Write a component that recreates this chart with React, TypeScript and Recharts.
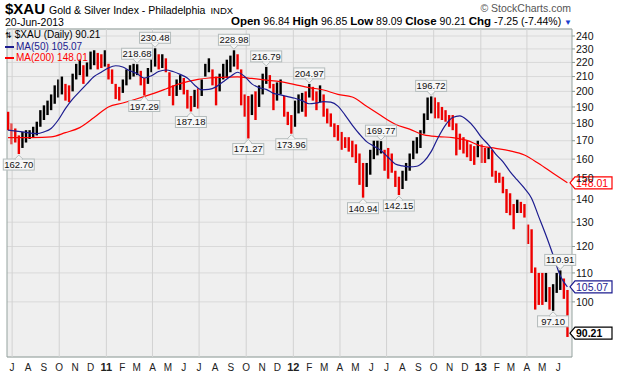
import React from "react";
import {
  ComposedChart,
  Bar,
  Line,
  XAxis,
  YAxis,
  CartesianGrid,
  ReferenceLine,
  ReferenceDot,
  ReferenceArea,
} from "recharts";

// day 0 = Mon 21-Jun-2010, weekly bars sit on the Wednesday of each week
const START_UTC = Date.UTC(2010, 5, 21);
const DAY_MS = 86400000;
const X_MAX = 1103;
const Y_MIN = 83.4;
const Y_MAX = 245.6;

// weekly high / low
const weekHigh = [
  187, 180, 177, 173, 175, 176, 176, 178, 181, 188,
  191, 194, 198, 204, 208, 210, 205, 204, 212, 219,
  222, 218, 220, 228, 229, 227, 226, 229, 219, 215,
  205, 203, 208, 215, 218, 219, 218.68, 214, 209, 216,
  225, 230.48, 226, 226, 223, 213, 204, 208, 211, 209,
  201, 197, 201, 202, 208, 219, 223, 215, 210, 212,
  219, 222, 225, 228.98, 226, 215, 198, 197, 198, 200,
  204, 212, 216.79, 211, 205, 206, 208, 197, 187, 185,
  194, 198, 199, 200, 204.97, 203, 200, 204, 198, 189,
  186, 180, 179, 175, 172, 172, 170, 168, 163, 158,
  158, 165, 170, 170, 169.77, 165, 166, 163, 154, 151,
  154, 158, 163, 170, 172, 176, 186, 196, 196.72, 196,
  193, 190, 188, 185, 185, 180, 174, 172, 170, 168,
  167, 170, 168, 166, 166, 165, 154, 153, 151, 145,
  143, 138, 140, 139, 138, 129, 127, 112, 110, 110,
  110, 105, 106, 110, 110.91, 108, 104,
];

const weekLow = [
  176, 168, 169, 162.7, 166, 169, 171, 172, 173, 178,
  182, 185, 188, 192, 196, 198, 194, 193, 200, 208,
  211, 205, 210, 215, 218, 215, 216, 217, 208, 205,
  195, 194, 199, 204, 208, 210, 211, 204, 197.29, 205,
  213, 217, 215, 216, 213, 197, 191, 197, 201, 198,
  189, 187.18, 190, 189, 197, 210, 213, 204, 191, 200,
  208, 209, 213, 217, 215, 191, 184, 171.27, 185, 182,
  190, 198, 205, 202, 188, 194, 198, 184, 179, 173.96,
  178, 186, 187, 184, 196, 194, 188, 193, 184, 180,
  178, 172, 170, 165, 166, 164, 161, 158, 147, 140.94,
  146, 152, 160, 162, 163, 154, 150, 153, 146, 142.15,
  145, 149, 154, 160, 163, 166, 174, 182, 186, 183,
  183, 182, 181, 178, 176, 162, 165, 163, 161, 159,
  157, 161, 158, 158, 160, 151, 148, 148, 143, 134,
  133, 127, 134, 134, 132, 121, 110, 97.5, 99, 99,
  100, 97.5, 97.1, 103, 104, 101, 89.09,
];

// moving averages, read at selected weeks
const ma50Week = [
  0, 4, 8, 10, 12, 14, 16, 18, 20, 22, 24, 26, 28, 30, 32, 34, 36, 38, 40, 42,
  44, 46, 48, 50, 52, 54, 56, 58, 60, 62, 64, 66, 68, 70, 72, 74, 76, 78, 80, 82,
  84, 86, 88, 90, 92, 94, 96, 98, 100, 102, 104, 106, 108, 110, 112, 114, 116, 118, 120, 122,
  124, 126, 128, 130, 132, 134, 136, 138, 140, 142, 144, 146, 148, 150, 152, 154, 156,
];
const ma50Value = [
  176, 175, 174, 175, 177, 182, 189, 195, 200, 205, 210, 213, 216, 217.6, 216.7, 214, 212, 209, 210.6, 213.5,
  214.6, 213.5, 211.5, 209, 204.3, 201, 201.3, 203, 206.5, 210, 213, 210, 205, 202.5, 201.3, 198.7, 197.7, 196.6, 195.5, 194,
  192, 192.5, 193.4, 193, 190.5, 185, 179, 173.8, 169.5, 167, 164.6, 161, 157.5, 156.5, 156, 156.3, 158.8, 164, 172, 179,
  183.5, 184.5, 182, 177.7, 172, 167.7, 162.7, 158.7, 153.6, 149.4, 145.4, 140.7, 132.4, 124.6, 116.7, 109, 105.07,
];

const ma200Week = [
  0, 6, 12, 16, 20, 24, 28, 32, 36, 40, 44, 48, 53, 56, 60, 64, 68, 72, 76, 80,
  84, 88, 92, 96, 100, 104, 106, 108, 112, 116, 120, 124, 128, 132, 136, 140, 144, 148, 152, 156,
];
const ma200Value = [
  171.7, 171.8, 172.2, 174.6, 177.5, 183.5, 190, 192.5, 195.2, 198.2, 201.6, 205.2, 208, 209, 209.5, 209.8, 208.7, 207.6, 206.5, 204.5,
  202.5, 200.9, 198, 196.3, 190.5, 184.7, 181.8, 179.5, 176.6, 173.3, 172.3, 171.8, 170.2, 167, 165.8, 164.4, 162.2, 157.7, 152.7, 148.01,
];

// Jul 2010 .. Jun 2013
const monthLabels = [
  "J", "A", "S", "O", "N", "D", "11", "F", "M", "A", "M", "J",
  "J", "A", "S", "O", "N", "D", "12", "F", "M", "A", "M", "J",
  "J", "A", "S", "O", "N", "D", "13", "F", "M", "A", "M", "J",
];
const yTicks = [100, 110, 120, 130, 140, 150, 160, 170, 180, 190, 200, 210, 220, 230, 240];

// swing high / low callouts
const noteWeek = [3, 36, 38, 41, 51, 63, 67, 72, 79, 84, 99, 104, 109, 118, 152, 154];
const noteValue = [162.7, 218.68, 197.29, 230.48, 187.18, 228.98, 171.27, 216.79, 173.96, 204.97, 140.94, 169.77, 142.15, 196.72, 97.1, 110.91];
const noteSide = ["low", "high", "low", "high", "low", "high", "low", "high", "low", "high", "low", "high", "low", "high", "low", "high"];

const lastClose = 90.21;
const lastMa50 = 105.07;
const lastMa200 = 148.01;

const weekDay = (i: number) => 2 + 7 * i;
const monthDays = monthLabels.map((_, k) => (Date.UTC(2010, 6 + k, 1) - START_UTC) / DAY_MS);
const quarterDays = monthDays.filter((_, k) => k % 3 === 0);

const bars = weekHigh.map((h, i) => {
  const mid = (h + weekLow[i]) / 2;
  const prev = i > 0 ? (weekHigh[i - 1] + weekLow[i - 1]) / 2 : mid + 1;
  return { day: weekDay(i), range: [weekLow[i], h], up: mid > prev };
});
const ma50Data = ma50Week.map((w, k) => ({ day: weekDay(w), ma50: ma50Value[k] }));
const ma200Data = ma200Week.map((w, k) => ({ day: weekDay(w), ma200: ma200Value[k] }));

const FONT = "'Liberation Sans', Arial, Helvetica, sans-serif";

function RangeBar(props: any) {
  const { x, y, width, height, payload } = props;
  if (x == null || y == null) return null;
  const cx = x + width / 2;
  return (
    <line x1={cx} x2={cx} y1={y} y2={y + height} stroke={payload.up ? "#000000" : "#ee0000"} strokeWidth={2.4} />
  );
}

function Callout({ cx, cy, text, side }: any) {
  if (cx == null || cy == null) return null;
  const w = 31;
  const h = 11;
  const high = side === "high";
  const by = high ? cy - 5 - h : cy + 5;
  const edge = high ? cy - 5 : cy + 5;
  const tip = high ? cy - 1 : cy + 1;
  return (
    <g>
      <rect x={cx - w / 2} y={by} width={w} height={h} fill="#f7f7f7" stroke="#b4bcbc" strokeWidth={1} />
      <polygon points={`${cx - 4},${edge} ${cx},${tip} ${cx + 4},${edge}`} fill="#f7f7f7" stroke="#b4bcbc" strokeWidth={1} />
      <line x1={cx - 3} x2={cx + 3} y1={edge} y2={edge} stroke="#f7f7f7" strokeWidth={1.2} />
      <text x={cx} y={by + 9} textAnchor="middle" fontSize={9.5} fontFamily={FONT} fill="#111">
        {text}
      </text>
    </g>
  );
}

function Flag({ cx, cy, text, color, bold }: any) {
  if (cx == null || cy == null) return null;
  const x0 = cx - 2;
  return (
    <g>
      <polygon
        points={`${x0},${cy} ${x0 + 5},${cy - 6} ${x0 + 42},${cy - 6} ${x0 + 42},${cy + 6} ${x0 + 5},${cy + 6}`}
        fill="#ffffff"
        stroke={color}
        strokeWidth={1.2}
      />
      <text x={x0 + 6} y={cy + 4} fontSize={10.5} fontFamily={FONT} fontWeight={bold ? "bold" : "normal"} fill={bold ? "#000" : color}>
        {text}
      </text>
    </g>
  );
}

function MonthTick({ x, y, payload }: any) {
  const k = monthDays.indexOf(payload.value);
  const label = k >= 0 ? monthLabels[k] : "";
  const isYear = /^\d+$/.test(label);
  return (
    <text x={x} y={y + 12} textAnchor="middle" fontSize={isYear ? 11 : 10} fontWeight={isYear ? "bold" : "normal"} fontFamily={FONT} fill="#222">
      {label}
    </text>
  );
}

export default function App() {
  return (
    <div style={{ position: "absolute", left: 0, top: 0, width: 618, height: 376, background: "#fff", fontFamily: FONT, color: "#000" }}>
      <ComposedChart width={618} height={376} data={bars} margin={{ top: 29, right: 0, bottom: 0, left: 7 }}>
        <CartesianGrid vertical={false} stroke="#d9d9d9" fill="#efefef" />
        {quarterDays.map((d) => (
          <ReferenceLine key={d} x={d} stroke="#d2d2d2" />
        ))}
        <XAxis
          type="number"
          dataKey="day"
          domain={[0, X_MAX]}
          ticks={monthDays}
          interval={0}
          tick={<MonthTick />}
          tickLine={false}
          axisLine={false}
          tickSize={0}
          height={19}
          allowDataOverflow
        />
        <YAxis
          orientation="right"
          scale="log"
          domain={[Y_MIN, Y_MAX]}
          ticks={yTicks}
          interval={0}
          allowDataOverflow
          width={46}
          axisLine={false}
          tickSize={3}
          tickMargin={1}
          tickLine={{ stroke: "#8a9a96" }}
          tick={{ fontSize: 10.5, fill: "#111", fontFamily: FONT }}
        />
        <Bar dataKey="range" isAnimationActive={false} shape={<RangeBar />} />
        <Line data={ma200Data} dataKey="ma200" type="monotone" dot={false} stroke="#ff0000" strokeWidth={1.2} isAnimationActive={false} />
        <Line data={ma50Data} dataKey="ma50" type="monotone" dot={false} stroke="#1c1c8f" strokeWidth={1.2} isAnimationActive={false} />
        {noteWeek.map((w, k) => (
          <ReferenceDot
            key={`n${k}`}
            x={weekDay(w)}
            y={noteValue[k]}
            r={0}
            ifOverflow="visible"
            shape={(p: any) => <Callout {...p} text={noteValue[k].toFixed(2)} side={noteSide[k]} />}
          />
        ))}
        <ReferenceArea x1={0} x2={X_MAX} y1={Y_MIN} y2={Y_MAX} fill="none" stroke="#95a39f" strokeWidth={1} ifOverflow="visible" />
        <ReferenceDot x={X_MAX} y={lastMa200} r={0} ifOverflow="visible" shape={(p: any) => <Flag {...p} text={lastMa200.toFixed(2)} color="#ff0000" />} />
        <ReferenceDot x={X_MAX} y={lastMa50} r={0} ifOverflow="visible" shape={(p: any) => <Flag {...p} text={lastMa50.toFixed(2)} color="#1c1c8f" />} />
        <ReferenceDot x={X_MAX} y={lastClose} r={0} ifOverflow="visible" shape={(p: any) => <Flag {...p} text={lastClose.toFixed(2)} color="#000" bold />} />
      </ComposedChart>

      {/* header */}
      <div style={{ position: "absolute", left: 5, top: 0, whiteSpace: "nowrap", lineHeight: "17px" }}>
        <span style={{ fontSize: 15, fontWeight: "bold" }}>$XAU</span>
        <span style={{ fontSize: 10.5, marginLeft: 4 }}>Gold &amp; Silver Index - Philadelphia</span>
        <span style={{ fontSize: 9.5, marginLeft: 5 }}>INDX</span>
      </div>
      <div style={{ position: "absolute", right: 47, top: 2, fontSize: 10.5, color: "#555", whiteSpace: "nowrap" }}>
        © StockCharts.com
      </div>
      <div style={{ position: "absolute", left: 5, top: 16, fontSize: 10.5, whiteSpace: "nowrap" }}>20-Jun-2013</div>
      <div style={{ position: "absolute", right: 46, top: 15, fontSize: 10.5, whiteSpace: "nowrap" }}>
        <b style={{ fontSize: 11.5 }}>Open</b> 96.84 <b style={{ fontSize: 11.5 }}>High</b> 96.85 <b style={{ fontSize: 11.5 }}>Low</b> 89.09{" "}
        <b style={{ fontSize: 11.5 }}>Close</b> 90.21 <b style={{ fontSize: 11.5 }}>Chg</b> -7.25 (-7.44%){" "}
        <span style={{ color: "#1a3fd0", fontSize: 8 }}>▼</span>
      </div>

      {/* legend inside the plot */}
      <div style={{ position: "absolute", left: 5, top: 29, fontSize: 10, whiteSpace: "nowrap", lineHeight: "11px" }}>
        <div>
          <span style={{ fontSize: 8 }}>⇅</span> $XAU (Daily) 90.21
        </div>
        <div style={{ color: "#1c1c8f" }}>
          <span style={{ display: "inline-block", width: 9, height: 2, background: "#1c1c8f", verticalAlign: "middle", marginRight: 2 }} />
          MA(50) 105.07
        </div>
        <div style={{ color: "#ff0000" }}>
          <span style={{ display: "inline-block", width: 9, height: 2, background: "#ff0000", verticalAlign: "middle", marginRight: 2 }} />
          MA(200) 148.01
        </div>
      </div>
    </div>
  );
}
